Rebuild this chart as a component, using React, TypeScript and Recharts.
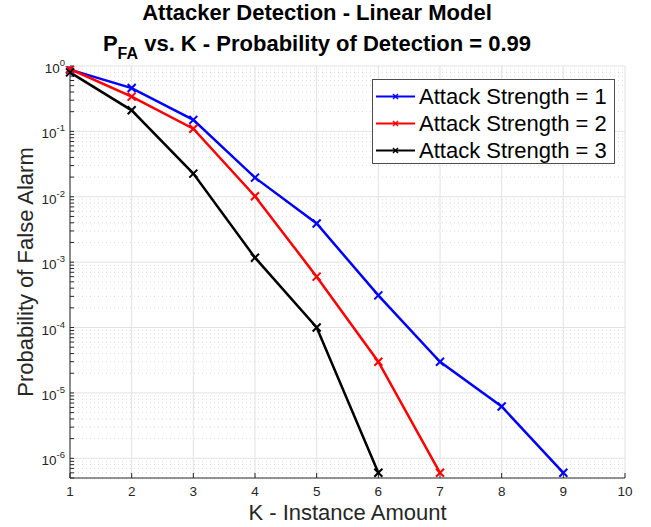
import React from "react"
import { LineChart, Line, XAxis, YAxis, CartesianGrid, Legend, ReferenceLine } from "recharts"

const FONT = '"Liberation Sans", Arial, Helvetica, sans-serif'
const TEXT = "#262626"

// K values on the x axis
const kValues = [1, 2, 3, 4, 5, 6, 7, 8, 9, 10]

// probability of false alarm per attack strength
const strength1 = [0.88, 0.46, 0.15, 0.0196, 0.0039, 3.1e-4, 3.0e-5, 6.2e-6, 6e-7, null]
const strength2 = [0.9, 0.34, 0.11, 0.0102, 6.0e-4, 3.0e-5, 6e-7, null, null, null]
const strength3 = [0.8, 0.21, 0.0226, 0.00117, 1.0e-4, 6e-7, null, null, null, null]

const seriesNames = ["Attack Strength = 1", "Attack Strength = 2", "Attack Strength = 3"]
const seriesColors = ["#0000ff", "#ff0000", "#000000"]

const majorTicks = [1e-6, 1e-5, 1e-4, 1e-3, 1e-2, 1e-1, 1]
const minorMultipliers = [2, 3, 4, 5, 6, 7, 8, 9]
const yDomain = [5e-7, 1]

const minorTicks: number[] = []
for (let d = -7; d <= -1; d++) {
  for (const m of minorMultipliers) {
    const v = m * Math.pow(10, d)
    if (v >= yDomain[0] && v < yDomain[1]) minorTicks.push(v)
  }
}
const allYTicks = [...majorTicks, ...minorTicks].sort((a, b) => a - b)

const data = kValues.map((k, i) => ({
  k,
  s1: strength1[i],
  s2: strength2[i],
  s3: strength3[i],
}))

const isMajor = (v: number) => majorTicks.some((m) => Math.abs(Math.log10(v) - Math.log10(m)) < 1e-6)

const YTick = (props: any) => {
  const { x, y, payload } = props
  if (!isMajor(payload.value)) return <g />
  const exp = Math.round(Math.log10(payload.value))
  return (
    <text x={x + 3} y={y + 7} textAnchor="end" fontSize={13.5} fill={TEXT} fontFamily={FONT}>
      10
      <tspan dy={-7} fontSize={9.5}>
        {exp}
      </tspan>
    </text>
  )
}

const XMarker = (props: any) => {
  const { cx, cy, stroke, index } = props
  if (cx == null || cy == null || props.value == null) return <g key={index} />
  const s = 4
  return (
    <g key={index}>
      <line x1={cx - s} y1={cy - s} x2={cx + s} y2={cy + s} stroke={stroke} strokeWidth={2} />
      <line x1={cx - s} y1={cy + s} x2={cx + s} y2={cy - s} stroke={stroke} strokeWidth={2} />
    </g>
  )
}

const LegendBox = () => (
  <div
    style={{
      border: "1px solid #4d4d4d",
      background: "#fff",
      width: 243,
      height: 85,
      boxSizing: "border-box",
      paddingTop: 3,
      fontFamily: FONT,
    }}
  >
    {seriesNames.map((name, i) => (
      <div key={name} style={{ display: "flex", alignItems: "center", height: 27 }}>
        <svg width={46} height={27}>
          <line x1={3} y1={13.5} x2={42} y2={13.5} stroke={seriesColors[i]} strokeWidth={2.2} />
          <line x1={20} y1={11} x2={25} y2={16} stroke={seriesColors[i]} strokeWidth={1.5} />
          <line x1={20} y1={16} x2={25} y2={11} stroke={seriesColors[i]} strokeWidth={1.5} />
        </svg>
        <span style={{ fontSize: 22, color: "#000", whiteSpace: "nowrap" }}>{name}</span>
      </div>
    ))}
  </div>
)

const titleStyle: React.CSSProperties = {
  position: "absolute",
  left: 0,
  width: 634,
  textAlign: "center",
  fontFamily: FONT,
  fontWeight: "bold",
  fontSize: 22,
  lineHeight: "26px",
  color: "#000",
  zIndex: 2,
}

export default function App() {
  return (
    <div style={{ position: "absolute", left: 0, top: 0, width: 651, height: 527, background: "#fff" }}>
      <div style={{ ...titleStyle, top: 0 }}>Attacker Detection - Linear Model</div>
      <div style={{ ...titleStyle, top: 31 }}>
        P<span style={{ fontSize: 16, position: "relative", top: 8 }}>FA</span> vs. K - Probability of Detection = 0.99
      </div>
      <LineChart width={651} height={527} data={data} margin={{ top: 66, right: 26, bottom: 0, left: 0 }}>
        <CartesianGrid horizontal={false} stroke="#e2e2e2" />
        {minorTicks.map((v) => (
          <ReferenceLine key={"mn" + v} y={v} stroke="#dddddd" strokeDasharray="1 3" />
        ))}
        {majorTicks.map((v) => (
          <ReferenceLine key={"mj" + v} y={v} stroke="#e2e2e2" />
        ))}
        <XAxis
          dataKey="k"
          type="number"
          domain={[1, 10]}
          ticks={kValues}
          height={49}
          tickSize={-5}
          tickMargin={13}
          stroke={TEXT}
          tick={{ fontSize: 13.5, fill: TEXT, fontFamily: FONT }}
          label={{ value: "K - Instance Amount", position: "insideBottom", offset: 7, fontSize: 22, fill: TEXT, fontFamily: FONT }}
        />
        <XAxis
          xAxisId="top"
          orientation="top"
          dataKey="k"
          type="number"
          domain={[1, 10]}
          ticks={kValues}
          height={0}
          tickSize={-5}
          tick={false}
          stroke={TEXT}
        />
        <YAxis
          scale="log"
          domain={yDomain}
          allowDataOverflow
          ticks={allYTicks}
          interval={0}
          width={70}
          tickSize={-4}
          tickMargin={12}
          stroke={TEXT}
          tick={<YTick />}
          label={{
            value: "Probability of False Alarm",
            angle: -90,
            position: "insideLeft",
            offset: 25,
            fontSize: 22,
            fill: TEXT,
            fontFamily: FONT,
            style: { textAnchor: "middle" },
          }}
        />
        <YAxis
          yAxisId="right"
          orientation="right"
          scale="log"
          domain={yDomain}
          allowDataOverflow
          ticks={allYTicks}
          interval={0}
          width={0}
          tickSize={-4}
          tick={false}
          stroke={TEXT}
        />
        <Legend
          layout="horizontal"
          verticalAlign="middle"
          align="center"
          content={<LegendBox />}
          wrapperStyle={{ left: 372, top: 79, width: 243, height: 85 }}
        />
        <Line dataKey="s1" stroke={seriesColors[0]} strokeWidth={2.5} dot={<XMarker />} isAnimationActive={false} />
        <Line dataKey="s2" stroke={seriesColors[1]} strokeWidth={2.5} dot={<XMarker />} isAnimationActive={false} />
        <Line dataKey="s3" stroke={seriesColors[2]} strokeWidth={2.5} dot={<XMarker />} isAnimationActive={false} />
      </LineChart>
    </div>
  )
}
